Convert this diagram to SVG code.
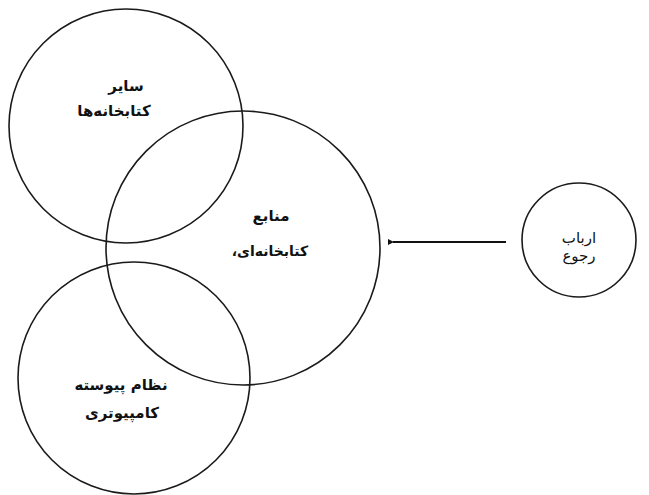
<svg xmlns="http://www.w3.org/2000/svg" width="649" height="495" viewBox="0 0 649 495">
<style>
.c{fill:none;stroke:#1a1a1a;stroke-width:1.6}
.t{font-family:"DejaVu Sans",sans-serif;font-size:15px;fill:#111;text-anchor:middle;direction:rtl}
.b{font-weight:bold}
</style>
<defs>
<marker id="ah" markerWidth="6" markerHeight="6" refX="1" refY="3" orient="auto" markerUnits="userSpaceOnUse">
<path d="M6,0 L0,3 L6,6 Z" fill="#111"/>
</marker>
</defs>
<rect width="649" height="495" fill="#fff"/>
<g id="other-libraries">
<circle class="c" cx="126" cy="126" r="117"/>
<text class="t b" x="126" y="91">سایر</text>
<text class="t b" x="114" y="116">کتابخانه‌ها</text>
</g>
<g id="library-resources">
<circle class="c" cx="243" cy="248" r="137"/>
<text class="t b" x="271" y="221">منابع</text>
<text class="t b" style="font-size:14px" x="270" y="256">کتابخانه‌ای،</text>
</g>
<g id="online-system">
<circle class="c" cx="134" cy="378" r="116"/>
<text class="t b" x="121" y="390">نظام پیوسته</text>
<text class="t b" x="122" y="418">کامپیوتری</text>
</g>
<g id="users">
<circle class="c" cx="579" cy="240" r="57"/>
<text class="t" x="579" y="243">ارباب</text>
<text class="t" x="579" y="261">رجوع</text>
</g>
<g id="connectors">
<line x1="506" y1="242" x2="393" y2="242" stroke="#111" stroke-width="2" marker-end="url(#ah)"/>
</g>
</svg>
